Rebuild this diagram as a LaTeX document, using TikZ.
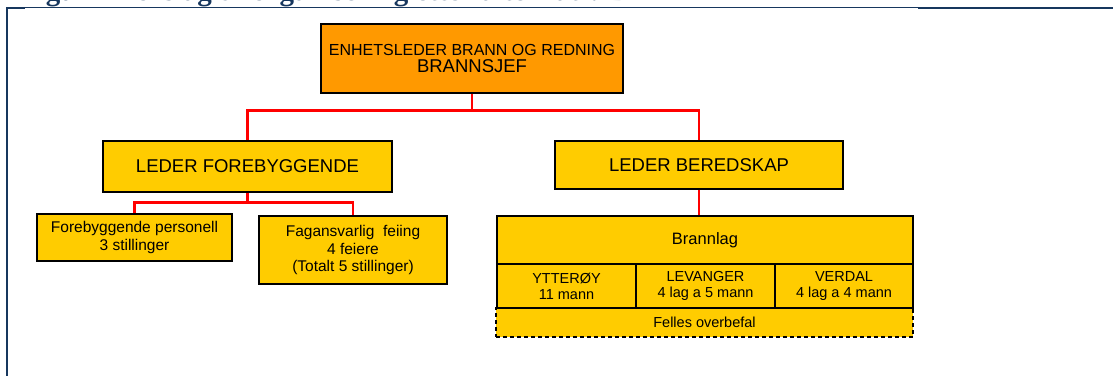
\documentclass[tikz,border=0pt]{standalone}
\usepackage{fontspec}
\setmainfont{Liberation Sans}
\newfontfamily\capfont{Liberation Serif}
\usepackage{xcolor}
\definecolor{boxorange}{HTML}{FF9900}
\definecolor{boxyellow}{HTML}{FFCC00}
\definecolor{capblue}{HTML}{17375E}
\def\big{\fontsize{18.5}{20}\selectfont}
\def\mid{\fontsize{15.5}{17.5}\selectfont}
\def\small{\fontsize{14.5}{16}\selectfont}

\begin{document}
\begin{tikzpicture}[x=1pt,y=-1pt,
	unit/.style={draw=black,line width=1.3pt,fill=boxyellow,align=center,inner sep=0pt},
	link/.style={draw=red,line width=2.5pt},
	frame/.style={draw=capblue}]
	\clip (0,0) rectangle (1113,376);
	\fill[white] (0,0) rectangle (1113,376);
	% caption and page frame
	\node (cap) at (20,0.5) [anchor=base west,inner sep=0pt,text=capblue,font=\capfont\bfseries\fontsize{29}{32}\selectfont] {Figur 2 Forslag til organisering etter alternativ B};
	\draw[frame,line width=1pt] (7,7.5) -- (918,7.5);
	\draw[frame,line width=2pt] (918,8) -- (1113,8);
	\draw[frame,line width=2pt] (7,7) -- (7,376);
	\draw[frame,line width=2pt] (7,8) -- (25,8);
	% boxes
	\node (chief) at (472,58.5) [unit,fill=boxorange,minimum width=302,minimum height=69] {{\fontsize{16}{18}\selectfont ENHETSLEDER BRANN OG REDNING}\\[3pt]{\big BRANNSJEF}};
	\node (prev) at (247.5,166.5) [unit,minimum width=289,minimum height=51,font=\big] {LEDER FOREBYGGENDE};
	\node (ready) at (699,165) [unit,minimum width=288,minimum height=48,font=\big] {LEDER BEREDSKAP};
	\node (pers) at (134.5,237.5) [unit,minimum width=195,minimum height=47,font=\mid] {Forebyggende personell\\3 stillinger};
	\node (sweep) at (353,250) [unit,minimum width=188,minimum height=68,font=\mid] {Fagansvarlig\ \ feiing\\4 feiere\\(Totalt 5 stillinger)};
	\node (joint) at (704.5,322.5) [unit,dash pattern=on 4pt off 3pt,minimum width=417,minimum height=29,font=\small] {Felles overbefal};
	\node (crew) at (705,240) [unit,minimum width=416,minimum height=48,font=\fontsize{16.5}{18}\selectfont] {Brannlag};
	\node (ytt) at (566.5,286) [unit,minimum width=139,minimum height=44,font=\small] {YTTERØY\\11 mann};
	\node (lev) at (705.5,286) [unit,minimum width=139,minimum height=44,font=\small] {LEVANGER\\4 lag a 5 mann};
	\node (ver) at (844,286) [unit,minimum width=138,minimum height=44,font=\small] {VERDAL\\4 lag a 4 mann};
	% red lines
	\draw[link] (chief.south) -- ++(0,17) coordinate (busA) -| (prev.north);
	\draw[link] (busA) -| (ready.north);
	\draw[link] (prev.south) -- ++(0,10) coordinate (busB) -| (pers.north);
	\draw[link] (busB) -| (sweep.north);
	\draw[link] (ready.south) -- (ready.south |- crew.north);
\end{tikzpicture}
\end{document}
